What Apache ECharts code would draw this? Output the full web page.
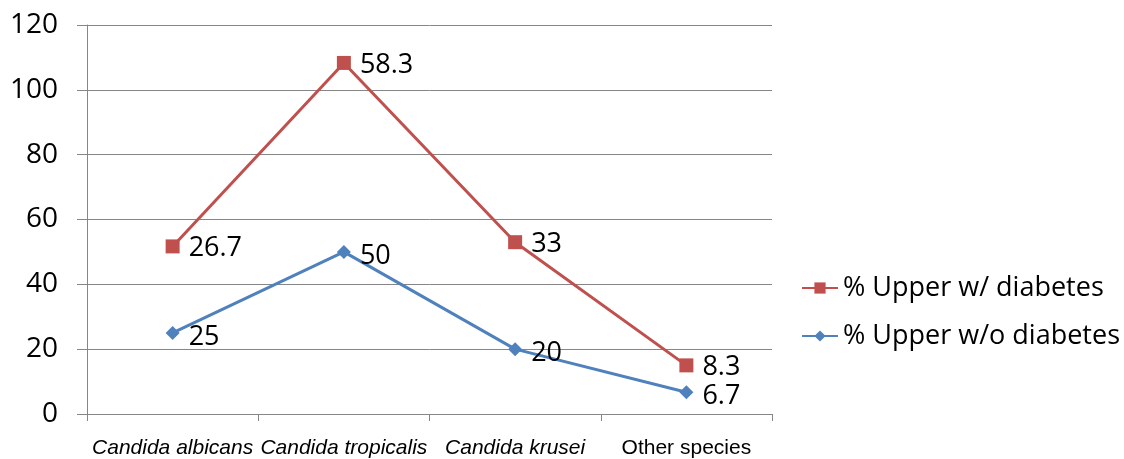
<!DOCTYPE html>
<html><head><meta charset="utf-8">
<script src="https://cdn.jsdelivr.net/npm/echarts@6/dist/echarts.min.js"></script>
<style>html,body{margin:0;padding:0;background:#fff}#c{width:1124px;height:459px}</style>
</head><body><div id="c"></div>
<script>
var categories = ['Candida albicans', 'Candida tropicalis', 'Candida krusei', 'Other species'];
var italicCats = [true, true, true, false];
var withoutDiabetes = [25, 50, 20, 6.7];
var withDiabetes = [26.7, 58.3, 33, 8.3];
var seriesNames = ['% Upper w/ diabetes', '% Upper w/o diabetes'];

var chart = echarts.init(document.getElementById('c'));
var catData = categories.map(function (c, i) {
  return { value: c, textStyle: { fontStyle: italicCats[i] ? 'italic' : 'normal' } };
});
var lblFont = 'Liberation Sans, Arial, sans-serif';
var numFont = 'Open Sans, sans-serif';
chart.setOption({
  animation: false,
  grid: { left: 87, right: 352, top: 25, bottom: 42 },
  legend: {
    orient: 'vertical', left: 796, top: 269, itemGap: 20,
    itemWidth: 36, itemHeight: 14, itemTextGap: 2,
    data: seriesNames,
    textStyle: { fontFamily: numFont, fontSize: 27, lineHeight: 28, color: '#000' }
  },
  xAxis: {
    type: 'category', data: catData, boundaryGap: true,
    axisLine: { lineStyle: { color: '#868686', width: 1 } },
    axisTick: { show: true, interval: 0, length: 7, lineStyle: { color: '#868686' } },
    axisLabel: { interval: 0, margin: 24, fontFamily: lblFont, fontSize: 21, color: '#000' }
  },
  yAxis: {
    type: 'value', min: 0, max: 120, interval: 20,
    axisLine: { show: true, lineStyle: { color: '#868686' } },
    axisTick: { show: true, length: 10, lineStyle: { color: '#868686' } },
    splitLine: { lineStyle: { color: '#868686', width: 1 } },
    axisLabel: { margin: 29, fontFamily: numFont, fontSize: 28, color: '#000' }
  },
  series: [
    {
      name: seriesNames[1], type: 'line', stack: 'total', data: withoutDiabetes,
      symbol: 'diamond', symbolSize: 14,
      itemStyle: { color: '#4F81BD' }, lineStyle: { color: '#4F81BD', width: 3 },
      label: { show: true, position: 'right', distance: 9, fontFamily: numFont, fontSize: 27, color: '#000', offset: [0, 4] }
    },
    {
      name: seriesNames[0], type: 'line', stack: 'total', data: withDiabetes,
      symbol: 'rect', symbolSize: 14,
      itemStyle: { color: '#C0504D' }, lineStyle: { color: '#C0504D', width: 3 },
      label: { show: true, position: 'right', distance: 9, fontFamily: numFont, fontSize: 27, color: '#000', offset: [0, 2] }
    }
  ]
});
</script></body></html>
